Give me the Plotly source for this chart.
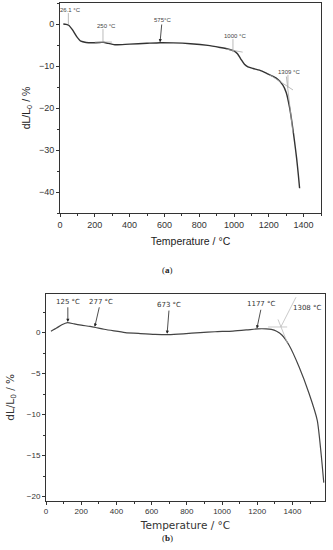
import plotly.graph_objects as go

# ---- data panel (a) ----
temp_a = [19, 35, 50, 70, 96, 120, 150, 190, 230, 250, 275, 315, 330, 400, 500, 575, 650, 750,
          850, 920, 970, 1000, 1020, 1040, 1060, 1080, 1110, 1147, 1190, 1243, 1280, 1300, 1320,
          1335, 1348, 1360, 1370, 1377]
dl_a = [0.0, -0.1, -0.3, -1.3, -3.0, -4.1, -4.4, -4.45, -4.4, -4.35, -4.6, -4.95, -4.95, -4.8,
        -4.6, -4.45, -4.5, -4.7, -5.1, -5.6, -6.0, -6.4, -7.1, -8.4, -9.6, -10.2, -10.6, -11.0,
        -11.8, -12.9, -14.5, -16.3, -20.0, -24.0, -28.0, -32.0, -36.0, -39.1]

# ---- data panel (b) ----
temp_b = [28, 60, 90, 122, 160, 200, 250, 282, 330, 386, 450, 536, 620, 697, 780, 876, 960, 1062,
          1140, 1203, 1250, 1280, 1310, 1340, 1381, 1438, 1494, 1541, 1563, 1578]
dl_b = [0.16, 0.55, 0.95, 1.22, 1.05, 0.9, 0.75, 0.62, 0.4, 0.2, 0.0, -0.12, -0.22, -0.25, -0.15,
        0.0, 0.1, 0.18, 0.32, 0.45, 0.45, 0.38, 0.15, -0.3, -1.55, -4.2, -7.4, -10.7, -14.8, -18.3]

# tangent / leader lines (temperature pairs, value pairs)
guides_a = [
    ([48, 48], [2.6, -0.1]),
    ([247, 247], [-1.2, -4.3]),
    ([200, 298], [-4.3, -4.3]),
    ([994, 994], [-3.6, -6.7]),
    ([955, 1050], [-6.0, -6.7]),
    ([1310, 1310], [-12.1, -15.2]),
    ([1205, 1339], [-12.1, -15.7]),
    ([1301, 1339], [-12.5, -26.0]),
]
guides_b = [
    ([1420, 1334], [4.3, 0.68]),
    ([1262, 1370], [0.68, 0.68]),
    ([1318, 1372], [1.6, -1.3]),
]

# plain labels: text, T, value
labels_a = [("26.1 °C", 63, 3.3), ("250 °C", 268, -0.5), ("1000 °C", 1004, -2.9),
            ("1309 °C", 1314, -11.4)]
# arrow labels: text, label T, label value, tip T, tip value
arrows_a = [("575°C", 587, 0.95, 575, -4.35)]
arrows_b = [("125 °C", 124, 3.75, 124, 1.3),
            ("277 °C", 310, 3.75, 277, 0.7),
            ("673 °C", 701, 3.35, 688, -0.15),
            ("1177 °C", 1227, 3.45, 1198, 0.5)]
labels_b = [("1308 °C", 1486, 3.0)]

W, H = 333, 550
fig = go.Figure()

fig.add_trace(go.Scatter(x=temp_a, y=dl_a, mode="lines", line=dict(color="#333333", width=1.4,
              shape="spline", smoothing=0.6), xaxis="x", yaxis="y", showlegend=False))
for gx, gy in guides_a:
    fig.add_trace(go.Scatter(x=gx, y=gy, mode="lines", line=dict(color="#aaaaaa", width=0.8),
                  xaxis="x", yaxis="y", showlegend=False))

fig.add_trace(go.Scatter(x=temp_b, y=dl_b, mode="lines", line=dict(color="#444444", width=1.2,
              shape="spline", smoothing=0.6), xaxis="x2", yaxis="y2", showlegend=False))
for gx, gy in guides_b:
    fig.add_trace(go.Scatter(x=gx, y=gy, mode="lines", line=dict(color="#bbbbbb", width=0.8),
                  xaxis="x2", yaxis="y2", showlegend=False))

ann = []
fa = dict(family="Liberation Sans, Arial", size=6, color="#444")
for t, x, y in labels_a:
    ann.append(dict(text=t, x=x, y=y, xref="x", yref="y", showarrow=False, font=fa))
for t, lx, ly, tx, ty in arrows_a:
    ann.append(dict(text=t, x=tx, y=ty, ax=lx, ay=ly, xref="x", yref="y", axref="x", ayref="y",
                    showarrow=True, arrowhead=2, arrowsize=0.8, arrowwidth=0.8,
                    arrowcolor="#222", font=fa))

fb = dict(family="DejaVu Sans", size=7, color="#333")
for t, lx, ly, tx, ty in arrows_b:
    ann.append(dict(text=t, x=tx, y=ty, ax=lx, ay=ly, xref="x2", yref="y2", axref="x2",
                    ayref="y2", showarrow=True, arrowhead=2, arrowsize=0.8, arrowwidth=0.8,
                    arrowcolor="#222", font=fb))
for t, x, y in labels_b:
    ann.append(dict(text=t, x=x, y=y, xref="x2", yref="y2", showarrow=False, font=fb))

# captions
cap = dict(family="Liberation Serif, Times New Roman", size=9, color="#222")
ann.append(dict(text="(<b>a</b>)", x=167 / W, y=1 - 270 / H, xref="paper", yref="paper",
                xanchor="center", yanchor="middle", showarrow=False, font=cap))
ann.append(dict(text="(<b>b</b>)", x=167 / W, y=1 - 538 / H, xref="paper", yref="paper",
                xanchor="center", yanchor="middle", showarrow=False, font=cap))

axis_common = dict(showline=True, mirror=True, linecolor="#333", linewidth=1, ticks="outside",
                   ticklen=3, tickcolor="#333", showgrid=False, zeroline=False, automargin=False)

fig.update_layout(
    width=W, height=H, margin=dict(l=0, r=0, t=0, b=0),
    paper_bgcolor="white", plot_bgcolor="white",
    annotations=ann,
    xaxis=dict(**axis_common, domain=[60 / W, 321 / W], range=[0, 1500], anchor="y",
               tickvals=[0, 200, 400, 600, 800, 1000, 1200, 1400],
               minor=dict(dtick=100, ticks="outside", ticklen=2, tickcolor="#333"),
               tickfont=dict(family="Liberation Sans, Arial", size=9, color="#333"),
               title=dict(text="Temperature / °C", standoff=8,
                          font=dict(family="Liberation Sans, Arial", size=10.5, color="#222"))),
    yaxis=dict(**axis_common, domain=[1 - 213 / H, 1 - 3 / H], range=[-45, 5], anchor="x",
               tickvals=[0, -10, -20, -30, -40],
               ticktext=["0", "\u221210", "\u221220", "\u221230", "\u221240"],
               minor=dict(dtick=5, ticks="outside", ticklen=2, tickcolor="#333"),
               tickfont=dict(family="Liberation Sans, Arial", size=9, color="#333"),
               title=dict(text="dL/L<sub>0</sub> / %", standoff=6,
                          font=dict(family="Liberation Sans, Arial", size=10.5, color="#222"))),
    xaxis2=dict(**axis_common, domain=[46 / W, 325 / W], range=[0, 1585], anchor="y2",
                tickvals=[0, 200, 400, 600, 800, 1000, 1200, 1400],
                minor=dict(dtick=100, ticks="outside", ticklen=2, tickcolor="#333"),
                tickfont=dict(family="Liberation Sans, Arial", size=8, color="#333"),
                title=dict(text="Temperature / °C", standoff=6,
                           font=dict(family="DejaVu Sans", size=10.5, color="#333"))),
    yaxis2=dict(**axis_common, domain=[1 - 500.7 / H, 1 - 294 / H], range=[-20.5, 4.7],
                anchor="x2", tickvals=[0, -5, -10, -15, -20],
                ticktext=["0", "\u22125", "\u221210", "\u221215", "\u221220"],
                minor=dict(dtick=2.5, ticks="outside", ticklen=2, tickcolor="#333"),
                tickfont=dict(family="Liberation Sans, Arial", size=8, color="#333"),
                title=dict(text="dL/L<sub>0</sub> / %", standoff=10,
                           font=dict(family="DejaVu Sans", size=10.5, color="#333"))),
)

fig.write_html("out.html", config={"displayModeBar": False},
               post_script="document.body.style.margin='0';document.body.style.overflow='hidden';")
